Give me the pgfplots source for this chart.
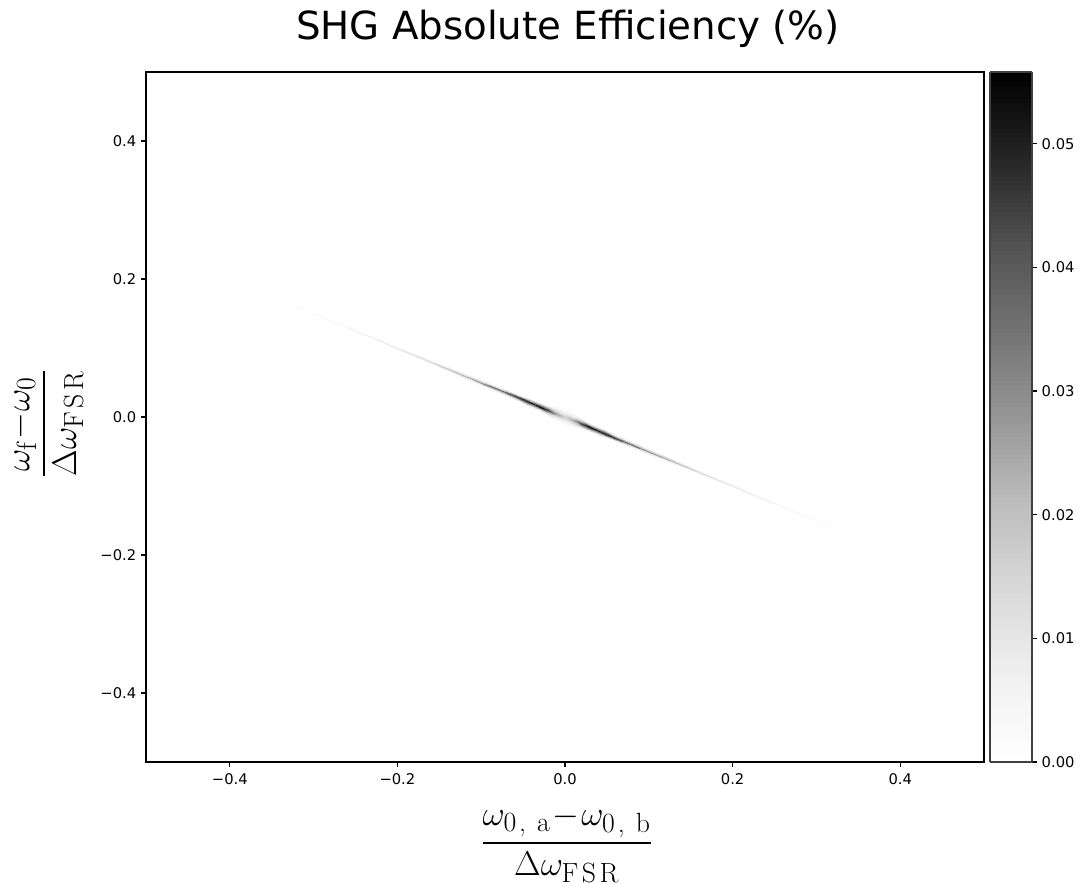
\documentclass[border=0pt]{standalone}
\usepackage[no-math]{fontspec}
\setmainfont{DejaVu Sans}
\usepackage{amsmath}
\usepackage{pgfplots}
\pgfplotsset{compat=1.18}

% matplotlib "Greys" colormap
\pgfplotsset{
  colormap={greys}{rgb255=(255,255,255) rgb255=(240,240,240) rgb255=(217,217,217)
    rgb255=(189,189,189) rgb255=(150,150,150) rgb255=(115,115,115)
    rgb255=(82,82,82) rgb255=(37,37,37) rgb255=(0,0,0)},
}
% upright Computer Modern subscripts for the axis labels
\newcommand{\ssub}[1]{\text{\fontfamily{lmr}\fontsize{20bp}{22bp}\selectfont #1}}
\newcommand{\FSR}{\ssub{F\kern2.5bp S\kern2.5bp R}}

\begin{document}
\begin{tikzpicture}
\begin{axis}[
  at={(0,0)}, anchor=south west,
  scale only axis, width=603.36bp, height=496.8bp,
  xmin=-0.5, xmax=0.5, ymin=-0.5, ymax=0.5,
  axis line style={line width=0.8bp},
  tick style={line width=0.8bp, black},
  major tick length=3.5bp,
  tick align=outside,
  xtick pos=left, ytick pos=left,
  xtick={-0.4,-0.2,0,0.2,0.4}, xticklabels={−0.4,−0.2,0.0,0.2,0.4},
  ytick={-0.4,-0.2,0,0.2,0.4}, yticklabels={−0.4,−0.2,0.0,0.2,0.4},
  tick label style={font=\fontsize{10.6bp}{12bp}\selectfont},
  xticklabel style={yshift=-1.5bp},
  title={SHG Absolute Efficiency (\%)},
  title style={font=\fontsize{27.9bp}{32bp}\selectfont,
    at={(axis description cs:0.5035,1.0348)}, anchor=base},
  xlabel={$\displaystyle\frac{\omega_{\ssub{0\kern2bp,\kern8bp a}}\!-\!\omega_{\ssub{0\kern2bp,\kern8bp b}}}{\Delta\omega_{\FSR}}$},
  xlabel style={font=\fontsize{26bp}{30bp}\selectfont,
    at={(axis description cs:0.502,-0.119)}, anchor=center},
  ylabel={$\displaystyle\frac{\omega_{\ssub{f}}\!-\!\omega_{\ssub{0}}}{\Delta\omega_{\FSR}}$},
  ylabel style={font=\fontsize{26bp}{30bp}\selectfont,
    at={(axis description cs:-0.1185,0.49)}, anchor=center},
  colormap name=greys,
  point meta min=0, point meta max=0.0558,
  colorbar sampled,
  colorbar style={
    samples=160,
    at={(parent axis.north east)}, anchor=north west, xshift=-4.22bp,
    scale only axis, width=30.24bp, height=496.8bp,
    ytick={0,0.01,0.02,0.03,0.04,0.05},
    yticklabels={0.00,0.01,0.02,0.03,0.04,0.05},
    scaled y ticks=false,
    ytick pos=right, yticklabel pos=right,
    tick align=outside, major tick length=3.5bp,
    tick style={line width=0.8bp, black},
    axis line style={line width=0.8bp, black!75},
    yticklabel style={font=\fontsize{10.6bp}{12bp}\selectfont},
  },
]
% efficiency ridge along the phase-matching line; columns: detuning x, detuning y, efficiency
\addplot[surf, shader=interp, point meta=explicit, mesh/rows=29, mesh/cols=5]
table[x=x, y=y, meta=c] {
x y c
-0.335 0.1655 0
-0.335 0.1665 0.0001
-0.335 0.1675 0.0003
-0.335 0.1685 0.0001
-0.335 0.1695 0
-0.32 0.1575 0
-0.32 0.15875 0.0008
-0.32 0.160 0.0022
-0.32 0.16125 0.0008
-0.32 0.1625 0
-0.28 0.1375 0
-0.28 0.13875 0.0014
-0.28 0.14 0.004
-0.28 0.14125 0.0014
-0.28 0.1425 0
-0.24 0.117 0
-0.24 0.1185 0.0024
-0.24 0.12 0.007
-0.24 0.1215 0.0024
-0.24 0.123 0
-0.20 0.097 0
-0.20 0.0985 0.0038
-0.20 0.1 0.011
-0.20 0.1015 0.0038
-0.20 0.103 0
-0.16 0.0765 0
-0.16 0.07825 0.0056
-0.16 0.08 0.016
-0.16 0.08175 0.0056
-0.16 0.0835 0
-0.13 0.061 0
-0.13 0.063 0.0077
-0.13 0.065 0.022
-0.13 0.067 0.0077
-0.13 0.069 0
-0.10 0.0455 0
-0.10 0.04775 0.0105
-0.10 0.05 0.030
-0.10 0.05225 0.0105
-0.10 0.0545 0
-0.08 0.035 0
-0.08 0.0375 0.0133
-0.08 0.04 0.038
-0.08 0.0425 0.0133
-0.08 0.045 0
-0.06 0.0245 0
-0.06 0.02725 0.016
-0.06 0.03 0.046
-0.06 0.03275 0.016
-0.06 0.0355 0
-0.045 0.0165 0
-0.045 0.0195 0.018
-0.045 0.0225 0.052
-0.045 0.0255 0.018
-0.045 0.0285 0
-0.03 0.0085 0
-0.03 0.01175 0.019
-0.03 0.015 0.0555
-0.03 0.01825 0.019
-0.03 0.0215 0
-0.02 0.002 0
-0.02 0.006 0.016
-0.02 0.01 0.045
-0.02 0.014 0.016
-0.02 0.018 0
-0.01 -0.006 0
-0.01 -0.0005 0.009
-0.01 0.005 0.025
-0.01 0.0105 0.009
-0.01 0.016 0
0 -0.013 0
0 -0.0065 0.0065
0 0 0.016
0 0.0065 0.0065
0 0.013 0
0.01 -0.016 0
0.01 -0.0105 0.009
0.01 -0.005 0.025
0.01 0.0005 0.009
0.01 0.006 0
0.02 -0.018 0
0.02 -0.014 0.016
0.02 -0.01 0.045
0.02 -0.006 0.016
0.02 -0.002 0
0.03 -0.0215 0
0.03 -0.01825 0.019
0.03 -0.015 0.0555
0.03 -0.01175 0.019
0.03 -0.0085 0
0.045 -0.0285 0
0.045 -0.0255 0.018
0.045 -0.0225 0.052
0.045 -0.0195 0.018
0.045 -0.0165 0
0.06 -0.0355 0
0.06 -0.03275 0.016
0.06 -0.03 0.046
0.06 -0.02725 0.016
0.06 -0.0245 0
0.08 -0.045 0
0.08 -0.0425 0.0133
0.08 -0.04 0.038
0.08 -0.0375 0.0133
0.08 -0.035 0
0.10 -0.0545 0
0.10 -0.05225 0.0105
0.10 -0.05 0.030
0.10 -0.04775 0.0105
0.10 -0.0455 0
0.13 -0.069 0
0.13 -0.067 0.0077
0.13 -0.065 0.022
0.13 -0.063 0.0077
0.13 -0.061 0
0.16 -0.0835 0
0.16 -0.08175 0.0056
0.16 -0.08 0.016
0.16 -0.07825 0.0056
0.16 -0.0765 0
0.20 -0.103 0
0.20 -0.1015 0.0038
0.20 -0.1 0.011
0.20 -0.0985 0.0038
0.20 -0.097 0
0.24 -0.123 0
0.24 -0.1215 0.0024
0.24 -0.12 0.007
0.24 -0.1185 0.0024
0.24 -0.117 0
0.28 -0.1425 0
0.28 -0.14125 0.0014
0.28 -0.14 0.004
0.28 -0.13875 0.0014
0.28 -0.1375 0
0.32 -0.1625 0
0.32 -0.16125 0.0008
0.32 -0.16 0.0022
0.32 -0.15875 0.0008
0.32 -0.1575 0
0.335 -0.1695 0
0.335 -0.1685 0.0001
0.335 -0.1675 0.0003
0.335 -0.1665 0.0001
0.335 -0.1655 0
};
\end{axis}
\pgfresetboundingbox
\path[use as bounding box] (-105.12bp,-87.84bp) rectangle (676.8bp,548.64bp);
\end{tikzpicture}
\end{document}
